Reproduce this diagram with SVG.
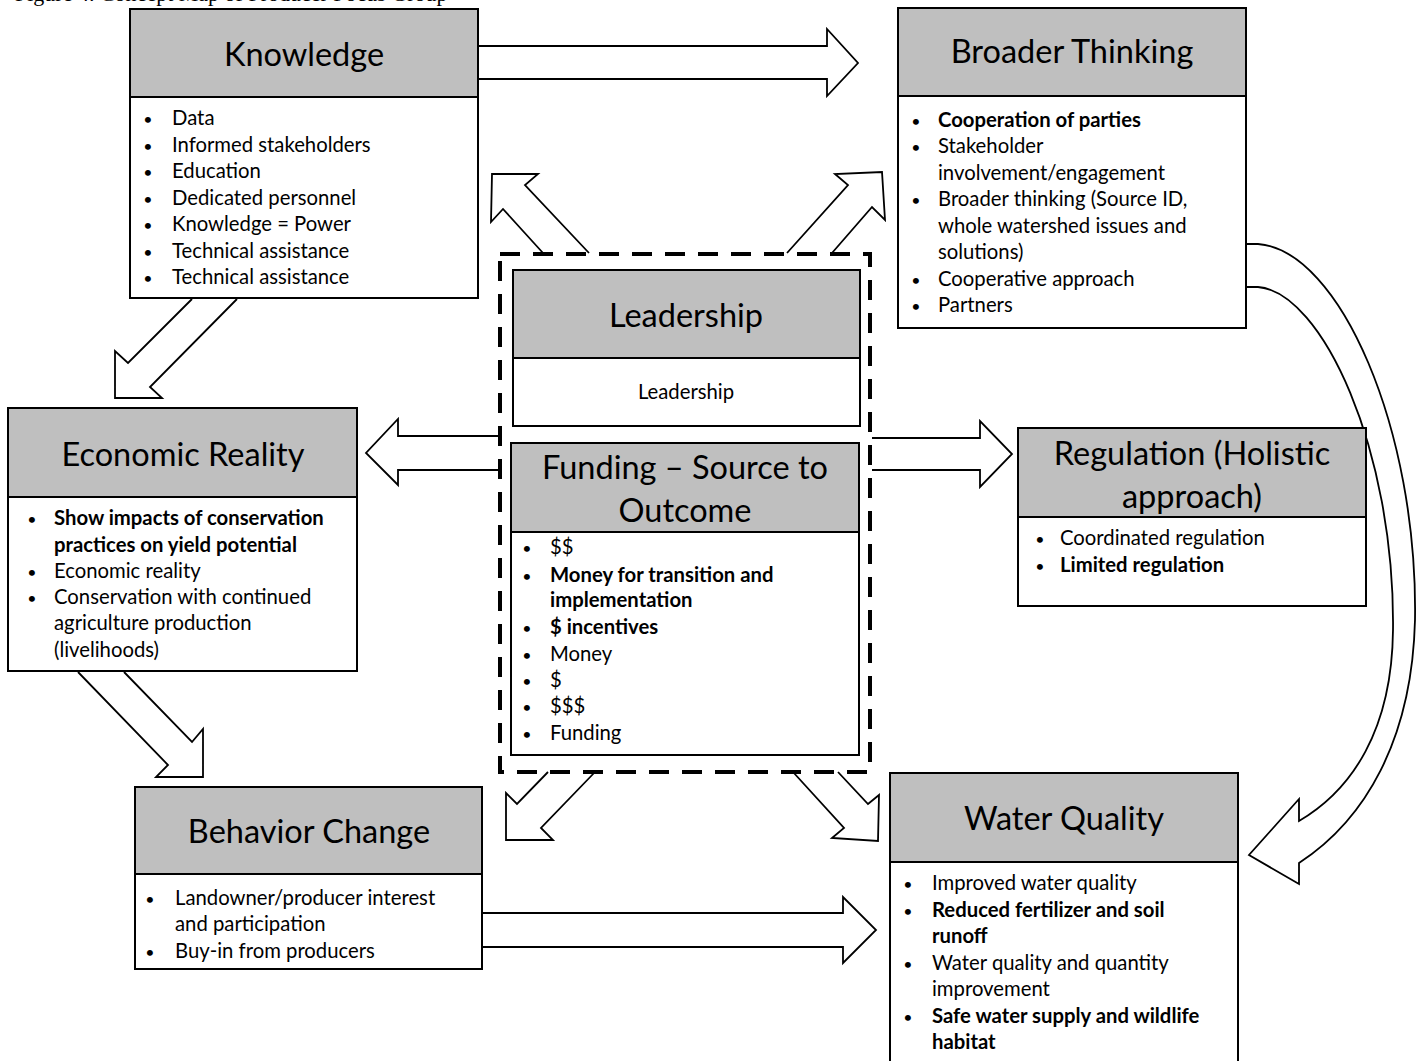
<svg xmlns="http://www.w3.org/2000/svg" width="1426" height="1061" viewBox="0 0 1426 1061">
<style>
.box{fill:#fff;stroke:#000;stroke-width:2}
.hdr{fill:#bfbfbf;stroke:#000;stroke-width:2}
.t{font-family:Lato,"Open Sans","Liberation Sans",sans-serif;font-size:32.5px;text-anchor:middle;fill:#000}
.i{font-family:Lato,"Open Sans","Liberation Sans",sans-serif;font-size:20.3px;fill:#000}
.bl{text-anchor:middle;font-size:16px}
.b{font-weight:bold}
.arr{fill:#fff;stroke:#000;stroke-width:1.8;stroke-linejoin:miter}
.dash{fill:none;stroke:#000;stroke-width:4;stroke-dasharray:20 13}
.cap{font-family:"Liberation Serif",serif;font-size:22px;fill:#000}
</style>
<rect width="1426" height="1061" fill="#fff"/>
<text class="cap" x="15" y="1">Figure 4. Concept Map of Producer Focus Group</text>

<g id="connectors">
<path class="arr" d="M478,46 L827,46 L827,29 L858,63 L827,96 L827,79 L478,79"/>
<path class="arr" d="M543,253 L503,209 L491,222 L492,174 L538,174 L525,185 L589,253"/>
<path class="arr" d="M787,253 L848,185 L835,174 L882,172 L885,220 L872,207 L832,253"/>
<path class="arr" d="M192,299 L128,363 L115,351 L115,398 L162,398 L150,387 L237,299"/>
<path class="arr" d="M500,436 L398,436 L398,419 L366,453 L398,485 L398,470 L500,470"/>
<path class="arr" d="M872,438 L980,438 L980,421 L1012,454 L980,487 L980,470 L872,470"/>
<path class="arr" d="M78,672 L168,765 L156,777 L203,777 L203,729 L192,742 L124,672"/>
<path class="arr" d="M548,772 L517,804 L506,793 L506,840 L553,840 L541,828 L595,772"/>
<path class="arr" d="M793,772 L844,828 L832,838 L878,841 L879,795 L868,804 L838,772"/>
<path class="arr" d="M482,913 L843,913 L843,897 L876,930 L843,963 L843,947 L482,947"/>
<path class="arr" d="M1246,244 L1258,244 C1340,250 1418,430 1415,620 C1412,740 1365,820 1299,863 L1299,884 L1249,855 L1299,799 L1299,821 C1352,790 1392,730 1393,630 C1395,450 1322,292 1258,287 L1246,287"/>
</g>

<rect class="dash" x="500" y="254" width="370" height="518"/>

<g id="knowledge">
<rect class="box" x="130" y="97" width="348" height="201"/>
<rect class="hdr" x="130" y="9" width="348" height="88"/>
<text class="t" x="304" y="66">Knowledge</text>
<g class="i">
<text class="bl" x="148" y="125">•</text><text x="172" y="125">Data</text>
<text class="bl" x="148" y="152">•</text><text x="172" y="152">Informed stakeholders</text>
<text class="bl" x="148" y="178">•</text><text x="172" y="178">Education</text>
<text class="bl" x="148" y="205">•</text><text x="172" y="205">Dedicated personnel</text>
<text class="bl" x="148" y="231">•</text><text x="172" y="231">Knowledge = Power</text>
<text class="bl" x="148" y="258">•</text><text x="172" y="258">Technical assistance</text>
<text class="bl" x="148" y="284">•</text><text x="172" y="284">Technical assistance</text>
</g>
</g>

<g id="broader">
<rect class="box" x="898" y="96" width="348" height="232"/>
<rect class="hdr" x="898" y="8" width="348" height="88"/>
<text class="t" x="1072" y="63">Broader Thinking</text>
<g class="i">
<text class="bl" x="916" y="127">•</text><text class="b" x="938" y="127">Cooperation of parties</text>
<text class="bl" x="916" y="153">•</text><text x="938" y="153">Stakeholder</text>
<text x="938" y="180">involvement/engagement</text>
<text class="bl" x="916" y="206">•</text><text x="938" y="206">Broader thinking (Source ID,</text>
<text x="938" y="233">whole watershed issues and</text>
<text x="938" y="259">solutions)</text>
<text class="bl" x="916" y="286">•</text><text x="938" y="286">Cooperative approach</text>
<text class="bl" x="916" y="312">•</text><text x="938" y="312">Partners</text>
</g>
</g>

<g id="leadership">
<rect class="box" x="513" y="358" width="347" height="68"/>
<rect class="hdr" x="513" y="270" width="347" height="88"/>
<text class="t" x="686" y="327">Leadership</text>
<text class="i" x="686" y="399" text-anchor="middle">Leadership</text>
</g>

<g id="funding">
<rect class="box" x="511" y="532" width="348" height="223"/>
<rect class="hdr" x="511" y="443" width="348" height="89"/>
<text class="t" x="685" y="479">Funding – Source to</text>
<text class="t" x="685" y="522">Outcome</text>
<g class="i">
<text class="bl" x="527" y="554">•</text><text x="550" y="554">$$</text>
<text class="bl" x="527" y="582">•</text><text class="b" x="550" y="582">Money for transition and</text>
<text class="b" x="550" y="607">implementation</text>
<text class="bl" x="527" y="634">•</text><text class="b" x="550" y="634">$ incentives</text>
<text class="bl" x="527" y="661">•</text><text x="550" y="661">Money</text>
<text class="bl" x="527" y="687">•</text><text x="550" y="687">$</text>
<text class="bl" x="527" y="713">•</text><text x="550" y="713">$$$</text>
<text class="bl" x="527" y="740">•</text><text x="550" y="740">Funding</text>
</g>
</g>

<g id="economic">
<rect class="box" x="8" y="497" width="349" height="174"/>
<rect class="hdr" x="8" y="408" width="349" height="89"/>
<text class="t" x="183" y="466">Economic Reality</text>
<g class="i">
<text class="bl" x="32" y="525">•</text><text class="b" x="54" y="525">Show impacts of conservation</text>
<text class="b" x="54" y="552">practices on yield potential</text>
<text class="bl" x="32" y="578">•</text><text x="54" y="578">Economic reality</text>
<text class="bl" x="32" y="604">•</text><text x="54" y="604">Conservation with continued</text>
<text x="54" y="630">agriculture production</text>
<text x="54" y="657">(livelihoods)</text>
</g>
</g>

<g id="regulation">
<rect class="box" x="1018" y="517" width="348" height="89"/>
<rect class="hdr" x="1018" y="428" width="348" height="89"/>
<text class="t" x="1192" y="465">Regulation (Holistic</text>
<text class="t" x="1192" y="508">approach)</text>
<g class="i">
<text class="bl" x="1040" y="545">•</text><text x="1060" y="545">Coordinated regulation</text>
<text class="bl" x="1040" y="572">•</text><text class="b" x="1060" y="572">Limited regulation</text>
</g>
</g>

<g id="behavior">
<rect class="box" x="135" y="874" width="347" height="95"/>
<rect class="hdr" x="135" y="787" width="347" height="87"/>
<text class="t" x="309" y="843">Behavior Change</text>
<g class="i">
<text class="bl" x="150" y="905">•</text><text x="175" y="905">Landowner/producer interest</text>
<text x="175" y="931">and participation</text>
<text class="bl" x="150" y="958">•</text><text x="175" y="958">Buy-in from producers</text>
</g>
</g>

<g id="water">
<rect class="box" x="890" y="862" width="348" height="220"/>
<rect class="hdr" x="890" y="773" width="348" height="89"/>
<text class="t" x="1064" y="830">Water Quality</text>
<g class="i">
<text class="bl" x="908" y="890">•</text><text x="932" y="890">Improved water quality</text>
<text class="bl" x="908" y="917">•</text><text class="b" x="932" y="917">Reduced fertilizer and soil</text>
<text class="b" x="932" y="943">runoff</text>
<text class="bl" x="908" y="970">•</text><text x="932" y="970">Water quality and quantity</text>
<text x="932" y="996">improvement</text>
<text class="bl" x="908" y="1023">•</text><text class="b" x="932" y="1023">Safe water supply and wildlife</text>
<text class="b" x="932" y="1049">habitat</text>
</g>
</g>
</svg>
